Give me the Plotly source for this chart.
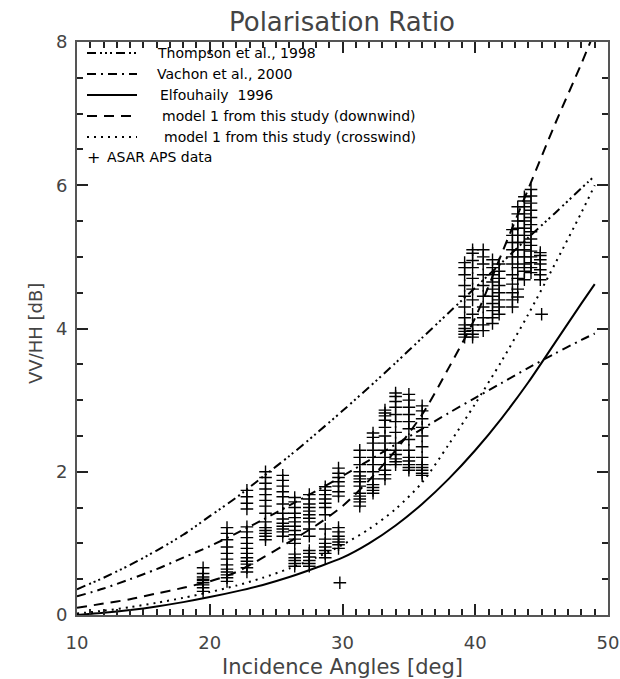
import plotly.graph_objects as go

# Incidence angles at which the model curves are sampled [deg]
angles = [10, 12, 14, 16, 18, 20, 22, 24, 26, 28, 30, 32, 34, 36, 38, 40, 42, 44, 46, 48, 49]

# Polarisation ratio VV/HH [dB] for each model
thompson_1998 = [0.36, 0.52, 0.70, 0.90, 1.12, 1.38, 1.64, 1.93, 2.22, 2.53, 2.85, 3.18, 3.52,
                 3.87, 4.22, 4.57, 4.92, 5.27, 5.61, 5.96, 6.13]
vachon_2000 = [0.26, 0.37, 0.50, 0.64, 0.80, 0.96, 1.14, 1.33, 1.53, 1.73, 1.94, 2.16, 2.38,
               2.60, 2.82, 3.03, 3.24, 3.45, 3.65, 3.84, 3.93]
elfouhaily_1996 = [0.00, 0.03, 0.07, 0.12, 0.18, 0.25, 0.33, 0.42, 0.53, 0.66, 0.80, 1.00, 1.25,
                   1.55, 1.90, 2.30, 2.75, 3.25, 3.80, 4.35, 4.62]
model1_downwind = [0.10, 0.16, 0.22, 0.30, 0.38, 0.47, 0.60, 0.80, 1.02, 1.25, 1.52, 1.88, 2.30,
                   2.80, 3.45, 4.15, 5.05, 5.95, 6.85, 7.70, 8.15]
model1_crosswind = [0.02, 0.06, 0.11, 0.17, 0.24, 0.32, 0.41, 0.52, 0.65, 0.80, 0.98, 1.20, 1.48,
                    1.85, 2.38, 2.95, 3.55, 4.20, 4.90, 5.62, 6.00]

# ASAR APS measurements, grouped by incidence angle [deg] -> VV/HH [dB]
asar_angles = [19.5, 21.3, 22.8, 24.2, 25.5, 26.4, 27.5, 28.7, 29.7, 29.8,
               31.3, 32.3, 33.2, 34.0, 35.0, 36.0,
               39.2, 39.8, 40.6, 41.3, 41.8, 42.8, 43.2, 43.7, 44.2, 44.9, 45.0]
asar_ratios = [
    [0.33, 0.38, 0.42, 0.45, 0.48, 0.50, 0.53, 0.58, 0.66],
    [0.47, 0.52, 0.56, 0.60, 0.64, 0.70, 0.78, 0.86, 0.95, 1.05, 1.14, 1.22],
    [0.60, 0.66, 0.71, 0.75, 0.80, 0.86, 0.93, 1.00, 1.08, 1.16, 1.23, 1.48, 1.56, 1.65, 1.74],
    [1.05, 1.10, 1.14, 1.18, 1.22, 1.30, 1.42, 1.52, 1.60, 1.68, 1.76, 1.84, 1.92, 2.00],
    [1.10, 1.16, 1.20, 1.24, 1.28, 1.34, 1.42, 1.55, 1.65, 1.72, 1.80, 1.88, 1.95],
    [0.68, 0.72, 0.76, 0.80, 0.85, 1.00, 1.06, 1.12, 1.18, 1.24, 1.30, 1.36, 1.42, 1.50, 1.58, 1.64],
    [0.68, 0.72, 0.76, 0.81, 0.86, 0.90, 1.10, 1.20, 1.30, 1.35, 1.40, 1.45, 1.50, 1.55, 1.62, 1.68],
    [0.80, 0.86, 0.90, 0.95, 1.00, 1.06, 1.20, 1.40, 1.50, 1.56, 1.62, 1.68, 1.74, 1.79],
    [0.93, 0.98, 1.02, 1.06, 1.10, 1.16, 1.22, 1.66, 1.72, 1.80, 1.86, 1.92, 1.98, 2.05],
    [0.45],
    [1.52, 1.58, 1.62, 1.66, 1.70, 1.80, 1.86, 1.90, 1.94, 2.00, 2.10, 2.20, 2.30],
    [1.70, 1.74, 1.78, 1.82, 1.90, 2.00, 2.10, 2.20, 2.30, 2.40, 2.48, 2.54],
    [1.90, 1.96, 2.02, 2.10, 2.20, 2.30, 2.40, 2.50, 2.62, 2.72, 2.78, 2.82, 2.86],
    [2.10, 2.14, 2.18, 2.24, 2.30, 2.40, 2.55, 2.70, 2.80, 2.90, 2.98, 3.05, 3.10],
    [2.02, 2.06, 2.10, 2.15, 2.20, 2.30, 2.45, 2.60, 2.70, 2.80, 2.90, 3.00, 3.08],
    [1.95, 1.98, 2.02, 2.06, 2.10, 2.20, 2.35, 2.50, 2.62, 2.74, 2.85, 2.92],
    [3.88, 3.92, 3.96, 4.00, 4.05, 4.15, 4.30, 4.45, 4.60, 4.75, 4.85, 4.92],
    [3.88, 3.92, 3.97, 4.05, 4.20, 4.40, 4.55, 4.70, 4.85, 4.95, 5.05, 5.10],
    [3.97, 4.05, 4.15, 4.30, 4.45, 4.60, 4.75, 4.90, 5.00, 5.10],
    [4.07, 4.15, 4.25, 4.35, 4.45, 4.55, 4.65, 4.75, 4.85, 4.96],
    [4.20, 4.30, 4.40, 4.50, 4.60, 4.70, 4.80, 4.90],
    [4.30, 4.40, 4.50, 4.62, 4.75, 4.90, 5.00, 5.10, 5.20, 5.30, 5.38],
    [4.44, 4.55, 4.70, 4.85, 5.00, 5.10, 5.20, 5.30, 5.40, 5.50, 5.60, 5.70],
    [4.68, 4.80, 4.90, 5.00, 5.10, 5.20, 5.30, 5.40, 5.50, 5.60, 5.70, 5.78, 5.84],
    [4.78, 4.85, 4.92, 5.00, 5.08, 5.16, 5.25, 5.35, 5.45, 5.55, 5.65, 5.75, 5.85, 5.94],
    [4.68, 4.75, 4.82, 4.90, 4.96, 5.02, 5.06],
    [4.20],
]

legend_labels = [
    "Thompson et al., 1998",
    "Vachon et al., 2000",
    "Elfouhaily  1996",
    "model 1 from this study (downwind)",
    "model 1 from this study (crosswind)",
    "ASAR APS data",
]

INK = "black"
AXIS_GREY = "#555555"
TEXT_GREY = "#444444"
FONT = "DejaVu Sans"

dash_thompson = "9px,4px,2px,3px,2px,3px,2px,4px"
dash_vachon = "9px,5px,2px,5px"
dash_down = "10px,7px"
dash_cross = "2px,5px"

curves = [
    (thompson_1998, dash_thompson),
    (vachon_2000, dash_vachon),
    (elfouhaily_1996, "solid"),
    (model1_downwind, dash_down),
    (model1_crosswind, dash_cross),
]

fig = go.Figure()

for (values, dash), name in zip(curves, legend_labels):
    fig.add_trace(go.Scatter(
        x=angles, y=values, mode="lines", name=name,
        line=dict(color=INK, width=2, dash=dash, shape="spline", smoothing=0.8),
        showlegend=False,
    ))

pts_x, pts_y = [], []
for a, ys in zip(asar_angles, asar_ratios):
    pts_x.extend([a] * len(ys))
    pts_y.extend(ys)

fig.add_trace(go.Scatter(
    x=pts_x, y=pts_y, mode="markers", name=legend_labels[-1],
    marker=dict(symbol="cross-thin", size=9, color=INK,
                line=dict(color=INK, width=1.4)),
    showlegend=False,
))

# Hand-placed legend in the upper-left corner of the frame
L, R, T, B = 77, 608, 42, 615  # frame in pixels


def px(x):
    return (x - L) / (R - L)


def py(y):
    return (B - y) / (B - T)


row_y = [53, 74, 95, 116, 137, 157]
dashes = [dash_thompson, dash_vachon, "solid", dash_down, dash_cross]
text_x = [155, 155, 158, 160, 162]
shapes = []
annotations = []
for i, dash in enumerate(dashes):
    shapes.append(dict(type="line", xref="paper", yref="paper",
                       x0=px(87), x1=px(137), y0=py(row_y[i]), y1=py(row_y[i]),
                       line=dict(color=INK, width=2, dash=dash)))
    annotations.append(dict(xref="paper", yref="paper", x=px(text_x[i]), y=py(row_y[i]),
                            text=legend_labels[i], showarrow=False,
                            xanchor="left", yanchor="middle",
                            font=dict(family=FONT, size=14, color=INK)))
annotations.append(dict(xref="paper", yref="paper", x=px(93), y=py(row_y[5]),
                        text="+", showarrow=False, xanchor="center", yanchor="middle",
                        font=dict(family=FONT, size=16, color=INK)))
annotations.append(dict(xref="paper", yref="paper", x=px(105), y=py(row_y[5]),
                        text=legend_labels[5], showarrow=False,
                        xanchor="left", yanchor="middle",
                        font=dict(family=FONT, size=14, color=INK)))

# Axis titles
annotations.append(dict(xref="paper", yref="paper", x=px(342), y=py(667),
                        text="Incidence Angles [deg]", showarrow=False,
                        xanchor="center", yanchor="middle",
                        font=dict(family=FONT, size=21, color=TEXT_GREY)))
annotations.append(dict(xref="paper", yref="paper", x=px(35), y=py(334),
                        text="VV/HH [dB]", showarrow=False, textangle=-90,
                        xanchor="center", yanchor="middle",
                        font=dict(family=FONT, size=18, color=TEXT_GREY)))

axis_common = dict(
    showgrid=False, zeroline=False, automargin=False,
    showline=True, linecolor=AXIS_GREY, linewidth=2, mirror="ticks",
    ticks="inside", ticklen=11, tickwidth=1.5, tickcolor="#222222",
    tickfont=dict(family=FONT, size=18, color=TEXT_GREY),
)

fig.update_layout(
    width=620, height=679,
    margin=dict(l=L, r=620 - R, t=T, b=679 - B),
    paper_bgcolor="white", plot_bgcolor="white",
    title=dict(text="Polarisation Ratio", x=px(342), xref="paper",
               y=1 - 22 / 679, yref="container", xanchor="center", yanchor="middle",
               font=dict(family=FONT, size=26, color=TEXT_GREY)),
    xaxis=dict(range=[10, 50], tickvals=[10, 20, 30, 40, 50],
               minor=dict(dtick=1, ticks="inside", ticklen=6, tickwidth=1.5,
                          tickcolor="#222222"),
               ticklabelstandoff=10, **axis_common),
    yaxis=dict(range=[0, 8], tickvals=[0, 2, 4, 6, 8],
               minor=dict(dtick=0.5, ticks="inside", ticklen=6, tickwidth=1.5,
                          tickcolor="#222222"),
               ticklabelstandoff=4, **axis_common),
    shapes=shapes,
    annotations=annotations,
    showlegend=False,
)

fig.write_html("out.html")
